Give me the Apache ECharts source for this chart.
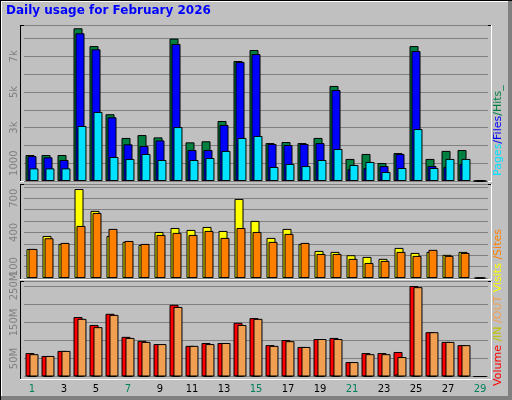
<!DOCTYPE html>
<html><head><meta charset="utf-8">
<script src="https://cdn.jsdelivr.net/npm/echarts@6/dist/echarts.min.js"></script>
<style>html,body{margin:0;padding:0;background:#c0c0c0}#c{width:512px;height:400px}</style>
</head><body><div id="c"></div>
<script>
const days = ['1','2','3','4','5','6','7','8','9','10','11','12','13','14','15','16','17','18','19','20','21','22','23','24','25','26','27','28','29'];
const weekend = ['1','7','8','14','15','21','22','28','29'];
const hits  = [1460,1460,1460,8580,7580,3750,2420,2580,2450,8000,2170,2230,3370,6740,7360,2130,2190,2130,2420,5340,1240,1520,1010,1570,7580,1240,1690,1740,0];
const files = [1400,1330,1180,8300,7400,3580,2060,1970,2280,7700,1740,1740,3150,6690,7130,2080,2020,2080,2130,5110,670,730,840,1520,7300,840,790,960,0];
const pages = [710,710,710,3090,3880,1350,1240,1520,1180,3030,1180,1290,1690,2420,2530,790,960,840,1180,1800,900,1070,510,730,2920,730,1240,1240,0];
const visits = [255,369,299,781,589,369,317,290,404,439,422,448,413,694,501,352,431,299,238,229,200,185,168,264,220,229,203,229,0];
const sites  = [255,349,308,457,571,431,325,299,378,396,378,413,352,439,404,317,387,308,211,211,168,132,150,229,194,247,194,220,0];
const volume = [65,57,71,165,143,174,110,99,90,199,85,93,93,149,162,87,101,82,104,107,40,65,65,68,251,123,96,87,0];
const volIn  = [1,1,1,3,4,1,1,1,1,3,1,1,1,3,3,2,1,1,1,3,1,1,1,6,3,1,1,1,0];
const volOut = [62,57,71,160,137,171,107,96,90,193,85,90,93,143,160,85,98,82,104,104,40,62,62,54,248,123,96,87,0];
const topTicks = {1000:'1000',3000:'3k',5000:'5k',7000:'7k'};
const midTicks = {100:'100',400:'400',700:'700'};
const botTicks = {50:'50M',150:'150M',250:'250M'};

const chart = echarts.init(document.getElementById('c'));
const L=24, R=24;
const grids=[{left:L,right:R,top:25,height:156},{left:L,right:R,top:184,height:94},{left:L,right:R,top:281,height:95.5}];
function xa(i,show){return {type:'category',gridIndex:i,data:days,axisLine:{show:false},axisTick:{show:false},
  axisLabel:show?{show:true,fontSize:10,fontFamily:'DejaVu Sans',margin:8,color:(v)=>weekend.includes(v)?'#00805c':'#000'}:{show:false}};}
function ya(i,max,interval,map){return {type:'value',gridIndex:i,min:0,max:max,interval:interval,
  axisLine:{show:false},axisTick:{show:false},
  splitLine:{show:true,lineStyle:{color:'#808080',width:1}},
  axisLabel:{rotate:90,fontSize:10,fontFamily:'DejaVu Sans',color:'#808080',margin:5,showMaxLabel:false,
    formatter:(v)=>map[v]||''}};}
function bar(name,data,color,i){return {name:name,type:'bar',data:data,xAxisIndex:i,yAxisIndex:i,barWidth:9,barGap:'-78%',
  itemStyle:{color:color,borderColor:'#000',borderWidth:1},animation:false};}
const edge=(x1,y1,x2,y2,c)=>({type:'line',shape:{x1,y1,x2,y2},style:{stroke:c,lineWidth:1},silent:true});
const panels=[[20,25,491,181],[20,184,491,279],[20,281,491,379]];
const g=[];
// outer bevel
g.push({type:'rect',shape:{x:0,y:0,width:512,height:400},style:{fill:'#c0c0c0'},z:-10});
g.push(edge(0.5,0,0.5,400,'#000'),edge(0,0.5,512,0.5,'#000'));
g.push({type:'rect',shape:{x:508,y:0,width:4,height:400},style:{fill:'#808080'},z:-5});
g.push({type:'rect',shape:{x:0,y:396,width:512,height:4},style:{fill:'#808080'},z:-5});
g.push(edge(1.5,1,1.5,396,'#fff'),edge(1,1.5,508,1.5,'#fff'));
panels.forEach(p=>{
  g.push(edge(p[0]+0.5,p[1],p[0]+0.5,p[3],'#000'),edge(p[0],p[1]+0.5,p[2],p[1]+0.5,'#000'));
  g.push(edge(p[2]+0.5,p[1],p[2]+0.5,p[3]+1,'#fff'),edge(p[0],p[3]+0.5,p[2]+1,p[3]+0.5,'#fff'));
});
g.push({type:'text',x:6,y:5,style:{text:'Daily usage for February 2026',fill:'#0000ff',font:'bold 12px "DejaVu Sans"'}});
g.push({type:'text',x:493,y:176,rotation:Math.PI/2,style:{
  text:'{c|Pages}{b|/Files}{g|/Hits_}',font:'11px "DejaVu Sans"',
  rich:{c:{fill:'#00e0ff',font:'11px "DejaVu Sans"'},b:{fill:'#0000ff',font:'11px "DejaVu Sans"'},g:{fill:'#008040',font:'11px "DejaVu Sans"'}}}});
g.push({type:'text',x:493,y:386,rotation:Math.PI/2,style:{
  text:'{r|Volume }{y|/IN }{o|/OUT }{v|Visits }{s|/Sites}',font:'11px "DejaVu Sans"',
  rich:{r:{fill:'#ff0000',font:'11px "DejaVu Sans"'},y:{fill:'#c0c000',font:'11px "DejaVu Sans"'},o:{fill:'#f0a050',font:'11px "DejaVu Sans"'},v:{fill:'#ffff00',font:'11px "DejaVu Sans"'},s:{fill:'#ff8000',font:'11px "DejaVu Sans"'}}}});

chart.setOption({
  animation:false,backgroundColor:'#c0c0c0',
  grid:grids,
  xAxis:[xa(0,false),xa(1,false),xa(2,true)],
  yAxis:[ya(0,8764,1000,topTicks),ya(1,825,100,midTicks),ya(2,265,50,botTicks)],
  series:[bar('Hits',hits,'#008040',0),bar('Files',files,'#0000ff',0),bar('Pages',pages,'#00e0ff',0),
    bar('Visits',visits,'#ffff00',1),bar('Sites',sites,'#ff8000',1),
    bar('Volume',volume,'#ff0000',2),bar('IN',volIn,'#ffff00',2),bar('OUT',volOut,'#f0a050',2)],
  graphic:g
});
</script></body></html>
